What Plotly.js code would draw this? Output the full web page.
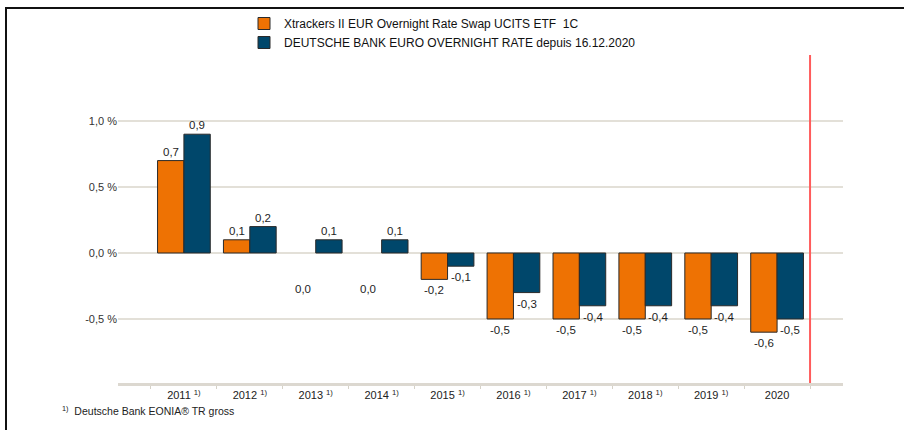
<!DOCTYPE html>
<html>
<head>
<meta charset="utf-8">
<script src="https://cdn.plot.ly/plotly-3.0.1.min.js"></script>
<style>
html,body{margin:0;padding:0;background:#fff;}
#chart{width:904px;height:430px;position:absolute;left:0;top:0;}
#frame{position:absolute;left:5px;top:7px;width:910px;height:440px;border-top:2px solid #111;border-left:2px solid #111;pointer-events:none;}
</style>
</head>
<body>
<div id="chart"></div>
<div id="frame"></div>
<script>
const years = ['2011','2012','2013','2014','2015','2016','2017','2018','2019','2020'];
const tickLabels = ['2011 <sup>1)</sup>','2012 <sup>1)</sup>','2013 <sup>1)</sup>','2014 <sup>1)</sup>','2015 <sup>1)</sup>','2016 <sup>1)</sup>','2017 <sup>1)</sup>','2018 <sup>1)</sup>','2019 <sup>1)</sup>','2020'];
const etfValues = [0.7, 0.1, 0.0, 0.0, -0.2, -0.5, -0.5, -0.5, -0.5, -0.6];
const indexValues = [0.9, 0.2, 0.1, 0.1, -0.1, -0.3, -0.4, -0.4, -0.4, -0.5];
const etfName = 'Xtrackers II EUR Overnight Rate Swap UCITS ETF\u00a0\u00a01C';
const indexName = 'DEUTSCHE BANK EURO OVERNIGHT RATE depuis 16.12.2020';
const yTicks = [-0.5, 0, 0.5, 1.0, 1.5];
const yTickText = ['-0,5 %', '0,0 %', '0,5 %', '1,0 %', ''];
const footnote = '<sup>1)</sup>  Deutsche Bank EONIA® TR gross';

const orange = '#ee7203';
const navy = '#00476b';
const fontFam = '"Liberation Sans", Arial, sans-serif';

const W = 904, H = 430, ML = 118, MR = 61, MT = 55, MB = 47;
const PW = W - ML - MR, PH = H - MT - MB;

function lineWidths(vals){ return vals.map(v => v === 0 ? 0 : 1); }

const traces = [
  {type:'bar', name:etfName, x:years, y:etfValues,
   marker:{color:orange, line:{color:'#2a2a2a', width:lineWidths(etfValues)}}, hoverinfo:'none'},
  {type:'bar', name:indexName, x:years, y:indexValues,
   marker:{color:navy, line:{color:'#2a2a2a', width:lineWidths(indexValues)}}, hoverinfo:'none'}
];

function fmt(v){ return v.toFixed(1).replace('.', ','); }
const annotations = [];
[[etfValues,-0.2],[indexValues,0.2]].forEach(([vals,off])=>{
  vals.forEach((v,i)=>{
    const pos = v > 0;
    annotations.push({
      x: i + off, y: v, xref:'x', yref:'y', text: fmt(v), showarrow:false,
      yanchor: pos ? 'bottom' : 'top', yshift: pos ? 1 : (v === 0 ? -28 : -3),
      font:{family:fontFam, size:11.5, color:'#1e1e1e'}
    });
  });
});
annotations.push({xref:'paper', yref:'paper', x:(60-ML)/PW, y:-(410-(H-MB))/PH, xanchor:'left', yanchor:'middle',
  text: footnote, showarrow:false, font:{family:fontFam, size:10.5, color:'#222'}});

const layout = {
  width:W, height:H,
  margin:{l:ML, r:MR, t:MT, b:MB, autoexpand:false},
  paper_bgcolor:'#fff', plot_bgcolor:'#fff',
  separators:',.',
  font:{family:fontFam, size:11, color:'#333'},
  barmode:'group', bargap:0.2, bargroupgap:0,
  showlegend:true,
  legend:{x:(244-ML)/PW, y:1+(MT-9)/PH, xanchor:'left', yanchor:'top',
    font:{family:fontFam, size:12, color:'#111'}, traceorder:'normal', bgcolor:'rgba(0,0,0,0)', tracegroupgap:0},
  xaxis:{type:'category', range:[-1, 10], tickvals:years, ticktext:tickLabels, tickangle:0,
    tickson:'boundaries', ticks:'outside', ticklen:3, tickcolor:'#d6d2c8', tickwidth:1,
    showgrid:false, zeroline:false, showline:true, linecolor:'#dcd8d0', linewidth:3,
    tickfont:{family:fontFam, size:11, color:'#222'}, fixedrange:true},
  yaxis:{range:[-0.985, 1.5], tickvals:yTicks, ticktext:yTickText, showgrid:true,
    gridcolor:'#e3e0d8', gridwidth:2, zeroline:false, showline:false, ticks:'',
    tickfont:{family:fontFam, size:11, color:'#333'}, fixedrange:true},
  shapes:[{type:'line', xref:'x', yref:'paper', x0:9.5, x1:9.5, y0:0, y1:1,
    line:{color:'#ff5c5c', width:2}}],
  annotations: annotations
};

Plotly.newPlot('chart', traces, layout, {displayModeBar:false, staticPlot:true});
</script>
</body>
</html>
